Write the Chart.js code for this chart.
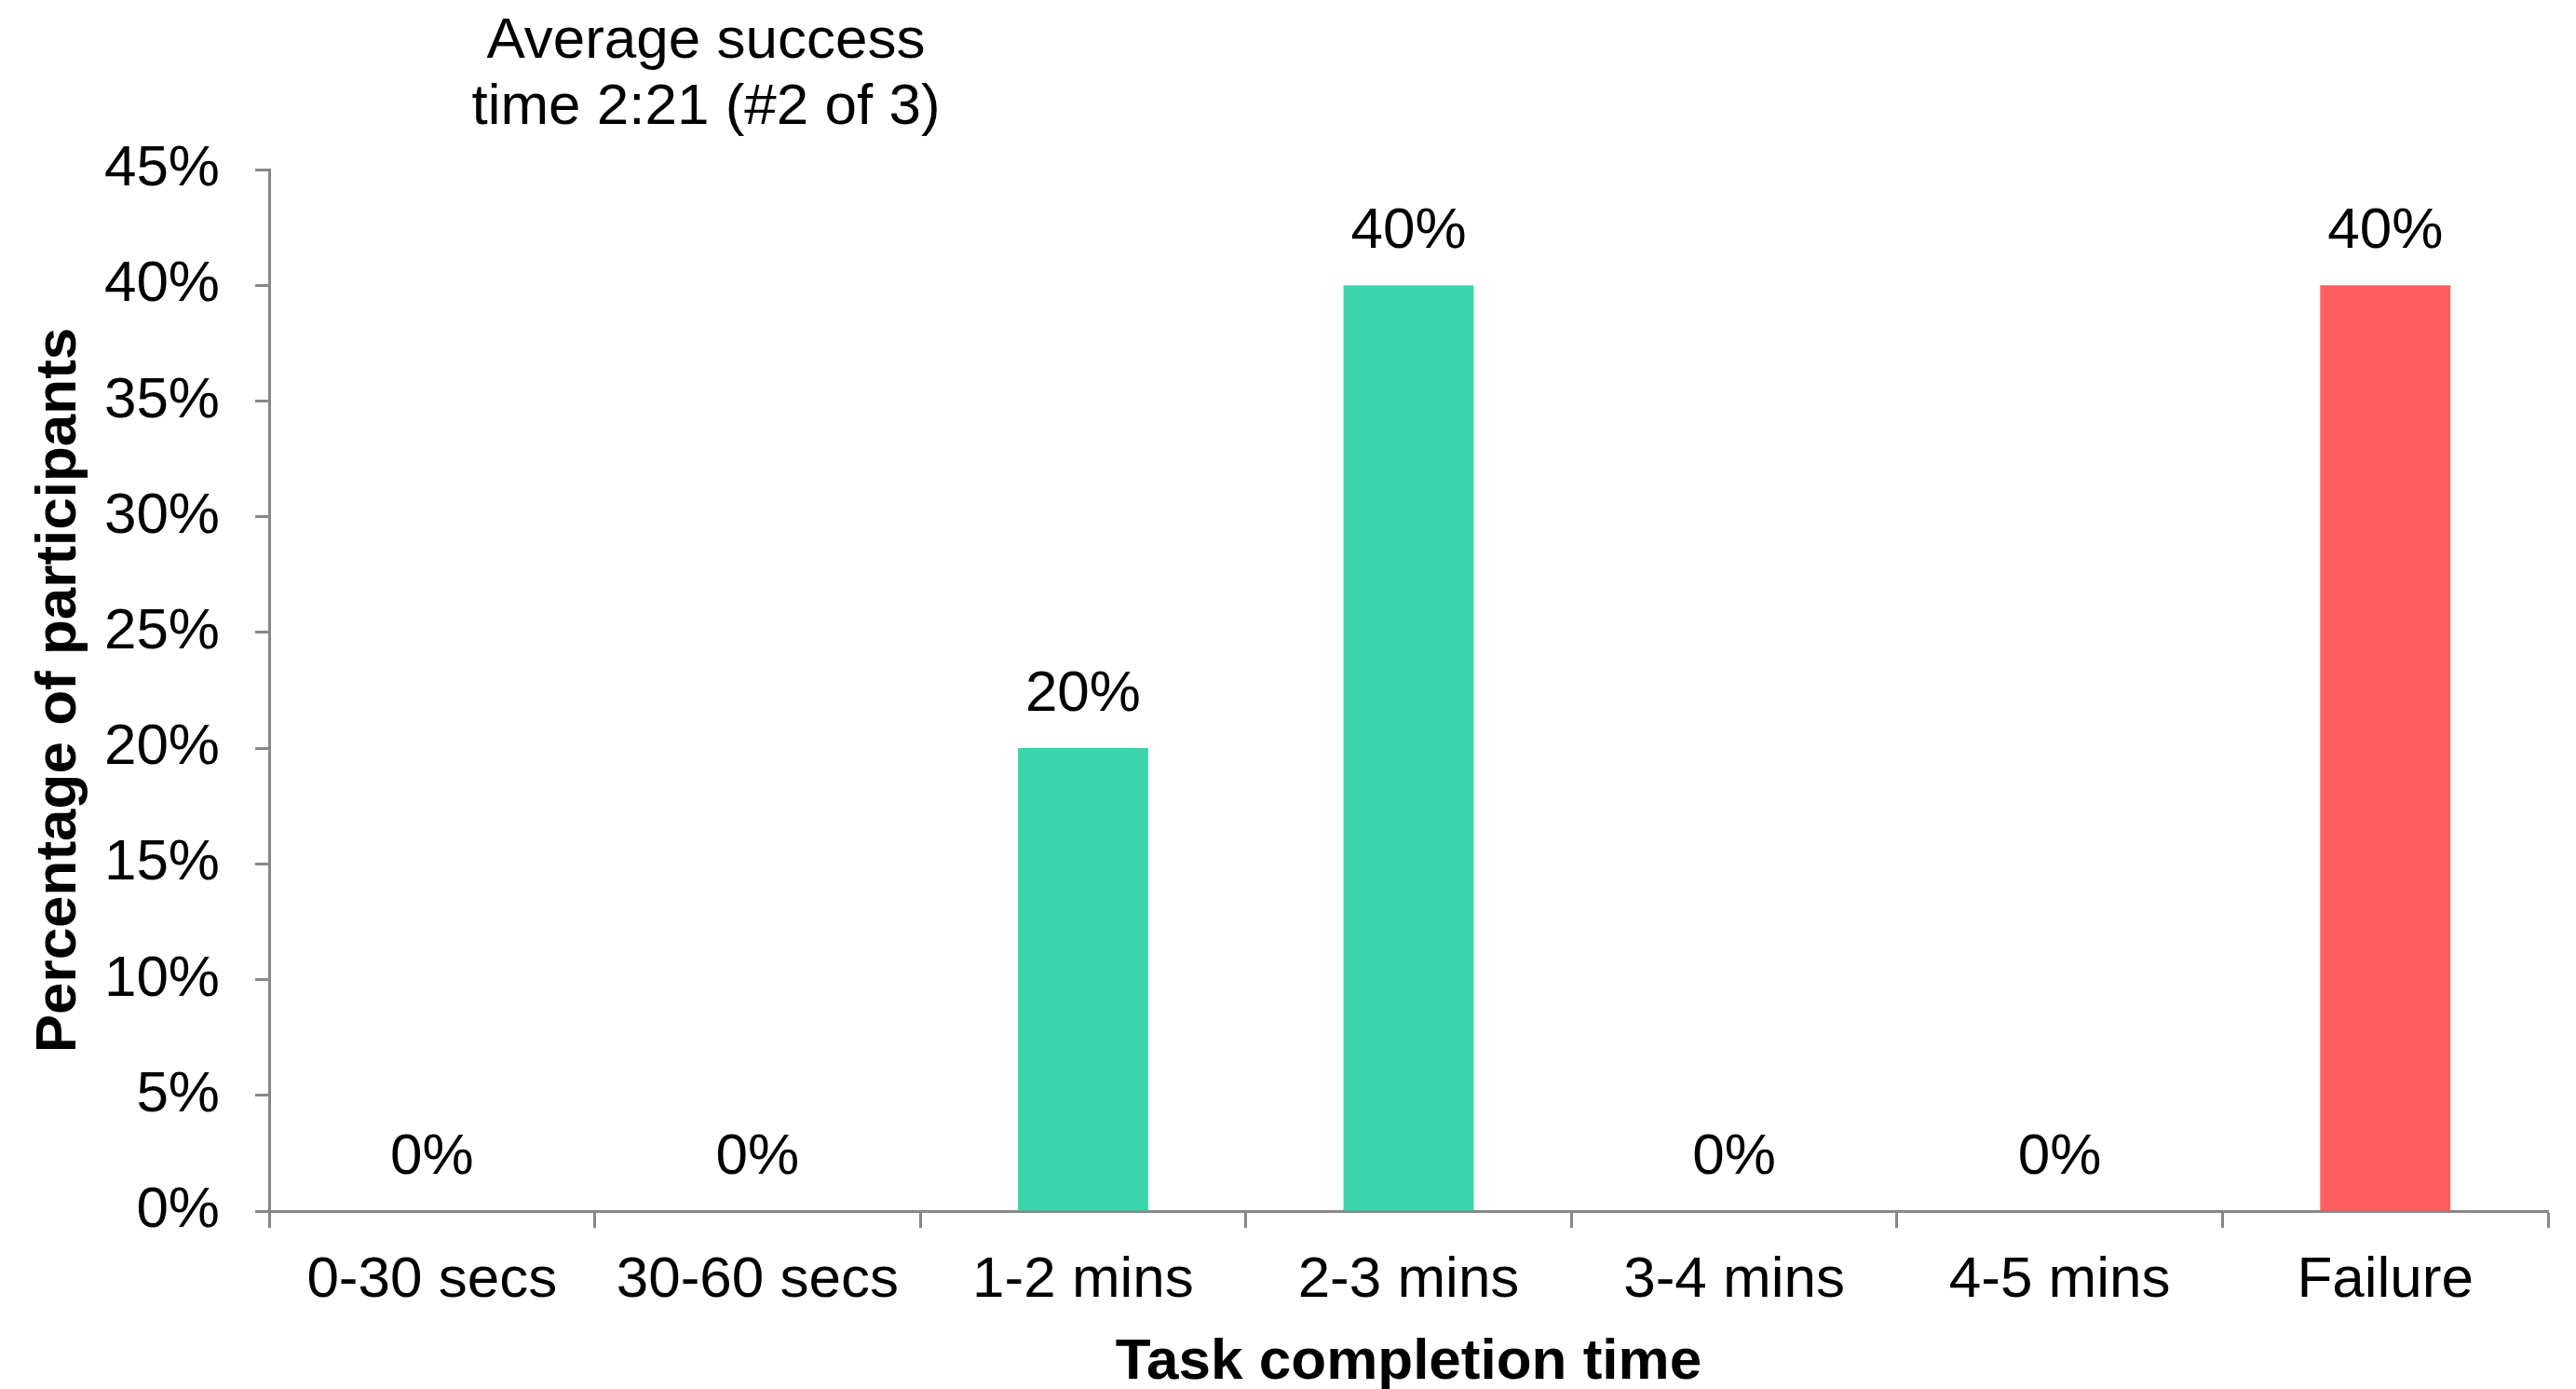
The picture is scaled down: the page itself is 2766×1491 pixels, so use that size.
<!DOCTYPE html>
<html>
<head>
<meta charset="utf-8">
<script src="https://cdn.jsdelivr.net/npm/chart.js@4/dist/chart.umd.min.js"></script>
<style>
    html, body { margin: 0; padding: 0; background: #ffffff; }
    #chart { display: block; }
</style>
</head>
<body>
<canvas id="chart" width="2766" height="1491"></canvas>
<script>
// Chart data
const categories = ['0-30 secs', '30-60 secs', '1-2 mins', '2-3 mins', '3-4 mins', '4-5 mins', 'Failure'];
const participantPct = [0, 0, 20, 40, 0, 0, 40];
const barColors = ['#3bd4ab', '#3bd4ab', '#3bd4ab', '#3bd4ab', '#3bd4ab', '#3bd4ab', '#ff5e5e'];
const titleLines = ['Average success', 'time 2:21 (#2 of 3)'];
const yTitle = 'Percentage of participants';
const xTitle = 'Task completion time';

const FONT = '"Liberation Sans", Arial, Helvetica, sans-serif';
const FONT_SIZE = 62;
const AXIS_GREY = '#878787';

// Value labels above each bar
const valueLabels = {
    id: 'valueLabels',
    afterDatasetsDraw(chart) {
        const ctx = chart.ctx;
        const meta = chart.getDatasetMeta(0);
        ctx.save();
        ctx.font = FONT_SIZE + 'px ' + FONT;
        ctx.fillStyle = '#000000';
        ctx.textAlign = 'center';
        ctx.textBaseline = 'middle';
        meta.data.forEach((bar, i) => {
            ctx.fillText(participantPct[i] + '%', bar.x, bar.y - 57);
        });
        ctx.restore();
    }
};

// Two-line note in the top left
const cornerTitle = {
    id: 'cornerTitle',
    afterDraw(chart) {
        const ctx = chart.ctx;
        ctx.save();
        ctx.font = FONT_SIZE + 'px ' + FONT;
        ctx.fillStyle = '#000000';
        ctx.textAlign = 'center';
        ctx.textBaseline = 'middle';
        titleLines.forEach((line, i) => {
            ctx.fillText(line, 758, 45 + i * 71);
        });
        ctx.restore();
    }
};

const ctx = document.getElementById('chart').getContext('2d');
const chart = new Chart(ctx, {
    type: 'bar',
    data: {
        labels: categories,
        datasets: [{
            data: participantPct,
            backgroundColor: barColors,
            borderWidth: 0,
            barPercentage: 0.4,
            categoryPercentage: 1.0
        }]
    },
    options: {
        responsive: false,
        devicePixelRatio: 1,
        animation: false,
        layout: { padding: { top: 182, right: 30, left: 0, bottom: 0 } },
        plugins: {
            legend: { display: false },
            tooltip: { enabled: false },
            title: { display: false }
        },
        scales: {
            x: {
                grid: {
                    display: true,
                    offset: true,
                    drawOnChartArea: false,
                    drawTicks: true,
                    tickLength: 18,
                    tickWidth: 3,
                    tickColor: AXIS_GREY
                },
                border: { color: AXIS_GREY, width: 3 },
                ticks: {
                    color: '#000000',
                    font: { size: FONT_SIZE, family: FONT },
                    padding: 20,
                    maxRotation: 0,
                    autoSkip: false
                },
                title: {
                    display: true,
                    text: xTitle,
                    color: '#000000',
                    font: { size: FONT_SIZE, family: FONT, weight: 'bold', lineHeight: 1 },
                    padding: { top: 0, bottom: -3 }
                },
                afterFit(scale) { scale.height = 191; }
            },
            y: {
                min: 0,
                max: 45,
                grid: {
                    display: true,
                    drawOnChartArea: false,
                    drawTicks: true,
                    tickLength: 15,
                    tickWidth: 3,
                    tickColor: AXIS_GREY
                },
                border: { color: AXIS_GREY, width: 3 },
                ticks: {
                    stepSize: 5,
                    color: '#000000',
                    font: { size: FONT_SIZE, family: FONT },
                    padding: 38,
                    callback: v => v + '%'
                },
                title: {
                    display: true,
                    text: yTitle,
                    color: '#000000',
                    font: { size: FONT_SIZE, family: FONT, weight: 'bold', lineHeight: 1 },
                    padding: { top: 33, bottom: 0 }
                },
                afterFit(scale) { scale.width = 289; }
            }
        }
    },
    plugins: [valueLabels, cornerTitle]
});
</script>
</body>
</html>
